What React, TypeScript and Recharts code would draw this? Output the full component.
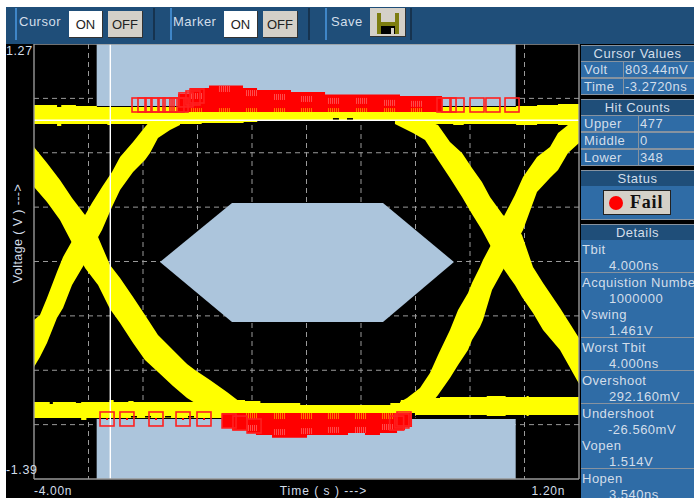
import { Area, CartesianGrid, ComposedChart, ReferenceLine, Scatter, XAxis, YAxis } from "recharts";

// all bands are [time ns, upper volt, lower volt]
const upperRail = [
  [-4, 0.897, 0.781], [-3.78, 0.885, 0.769], [-3.74, 0.897, 0.781], [-3.6, 0.891, 0.781], [-3.4, 0.885, 0.781],
  [-3.3, 0.885, 0.775], [-3.27, 0.885, 0.781], [-2.9, 0.885, 0.781], [-2.4, 0.885, 0.787], [-2.0, 0.885, 0.793],
  [-1.87, 0.885, 0.799], [-0.54, 0.885, 0.781], [-0.4, 0.885, 0.775], [-0.3, 0.885, 0.781], [0, 0.885, 0.775],
  [0.1, 0.885, 0.781], [0.6, 0.891, 0.775], [0.8, 0.897, 0.781], [1.0, 0.903, 0.775], [1.2, 0.903, 0.775],
];
const lowerRail = [
  [-4, -0.919, -1.017], [-3.85, -0.931, -1.017], [-3.82, -0.919, -1.017], [-3.6, -0.925, -1.017], [-3.55, -0.919, -1.029],
  [-3.5, -0.919, -1.017], [-3.28, -0.907, -1.017], [-3.24, -0.919, -1.017], [-3.1, -0.913, -1.017], [-3.05, -0.919, -1.017],
  [-2.225, -0.907, -1.017], [-1.987, -0.913, -0.992], [-1.84, -0.925, -0.986], [-1.46, -0.937, -0.986], [-0.89, -0.937, -0.986],
  [-0.6, -0.925, -0.986], [-0.5, -0.907, -0.986], [-0.365, -0.895, -0.999], [-0.126, -0.889, -0.999], [0.3, -0.889, -0.999],
  [0.32, -0.883, -1.005], [0.5, -0.889, -0.999], [0.7, -0.883, -1.005], [0.72, -0.889, -0.999], [1.2, -0.889, -0.999],
];
const fallLeft = [
  [-4, 0.64, 0.396], [-3.876, 0.542, 0.304], [-3.752, 0.438, 0.194], [-3.637, 0.328, 0.053], [-3.513, 0.224, -0.1],
  [-3.389, 0.09, -0.204], [-3.275, -0.081, -0.35], [-3.179, -0.161, -0.436], [-3.055, -0.277, -0.558], [-2.941, -0.387, -0.662],
  [-2.817, -0.509, -0.736], [-2.674, -0.601, -0.821], [-2.54, -0.687, -0.895], [-2.464, -0.723, -0.925], [-2.321, -0.785, -0.937],
  [-2.159, -0.858, -0.956], [-2.034, -0.919, -0.956],
];
const riseLeft = [
  [-4, -0.418, -0.705], [-3.943, -0.387, -0.644], [-3.876, -0.283, -0.558], [-3.781, -0.124, -0.405], [-3.723, -0.032, -0.344],
  [-3.637, 0.065, -0.204], [-3.513, 0.224, -0.069], [-3.447, 0.298, 0.023], [-3.351, 0.396, 0.133], [-3.256, 0.487, 0.273],
  [-3.179, 0.579, 0.377], [-3.055, 0.671, 0.487], [-2.941, 0.762, 0.561], [-2.893, 0.799, 0.603], [-2.817, 0.805, 0.695],
  [-2.702, 0.805, 0.744], [-2.607, 0.805, 0.775],
];
const riseRight = [
  [-0.508, -0.919, -0.968], [-0.441, -0.895, -0.968], [-0.317, -0.834, -0.968], [-0.222, -0.742, -0.937], [-0.145, -0.632, -0.876],
  [-0.031, -0.479, -0.772], [0.046, -0.357, -0.693], [0.141, -0.253, -0.601], [0.179, -0.191, -0.54], [0.255, -0.094, -0.461],
  [0.284, -0.051, -0.418], [0.37, 0.053, -0.234], [0.475, 0.206, -0.112], [0.589, 0.347, 0.041], [0.666, 0.457, 0.133],
  [0.799, 0.579, 0.365], [0.923, 0.64, 0.451], [1.0, 0.726, 0.5], [1.095, 0.775, 0.603], [1.2, 0.793, 0.665],
];
const fallRight = [
  [-0.556, 0.805, 0.781], [-0.384, 0.805, 0.726], [-0.269, 0.805, 0.683], [-0.145, 0.775, 0.561], [-0.031, 0.671, 0.451],
  [0.084, 0.603, 0.334], [0.179, 0.512, 0.23], [0.274, 0.426, 0.133], [0.351, 0.334, 0.041], [0.475, 0.224, -0.1],
  [0.589, 0.163, -0.204], [0.656, 0.102, -0.277], [0.761, -0.094, -0.375], [0.857, -0.191, -0.479], [1.019, -0.344, -0.601],
  [1.2, -0.528, -0.808],
];
const redUpper = [
  [-2.626, 0.964, 0.854], [-2.512, 1.001, 0.854], [-2.33, 1.016, 0.854], [-2.006, 1.001, 0.854], [-1.872, 0.989, 0.854],
  [-1.548, 0.976, 0.854], [-1.223, 0.961, 0.854], [-0.508, 0.952, 0.854], [-0.107, 0.952, 0.854],
];
const redLower = [
  [-2.206, -0.986, -1.078], [-2.111, -0.986, -1.09], [-1.968, -0.986, -1.109], [-1.882, -0.986, -1.121], [-1.729, -0.986, -1.137],
  [-1.395, -0.986, -1.121], [-1.004, -0.986, -1.109], [-0.842, -0.986, -1.121], [-0.699, -0.986, -1.109], [-0.536, -0.986, -1.09],
  [-0.46, -0.986, -1.072], [-0.393, -0.986, -1.072],
];
const maskCenter = [
  [-2.798, -0.063, -0.063], [-2.111, 0.298, -0.43], [-0.67, 0.298, -0.43], [0.007, -0.063, -0.063],
];
const maskTop = [[-3.402, 1.27, 0.891], [0.596, 1.27, 0.891]];
const maskBottom = [[-3.402, -1.023, -1.39], [0.596, -1.023, -1.39]];

// failed hits, [time ns, volt]
const hitsTop = [
  [-2.998, 0.897], [-2.941, 0.897], [-2.874, 0.897], [-2.817, 0.897], [-2.75, 0.897], [-2.702, 0.897], [-2.636, 0.897], [-2.597, 0.897],
  [-2.55, 0.928], [-2.483, 0.94], [-2.445, 0.952], [-0.088, 0.897], [-0.04, 0.897], [0.036, 0.897], [0.227, 0.897], [0.379, 0.897], [0.561, 0.897],
];
const hitsBottom = [
  [-3.303, -1.023], [-3.113, -1.023], [-2.836, -1.023], [-2.578, -1.023], [-2.378, -1.023], [-2.139, -1.035], [-2.035, -1.048],
  [-1.9, -1.066], [-0.47, -1.023], [-0.49, -1.035], [-0.54, -1.048],
];
const dotsOnHits = hitsBottom.slice(0, 5);
const solidUpper = [[-2.445, 0.866], [-2.178, 0.866], [-1.92, 0.866], [-1.653, 0.866], [-1.395, 0.866], [-1.138, 0.866], [-0.87, 0.866], [-0.603, 0.866], [-0.346, 0.866]];
const solidLower = [[-1.92, -1.005], [-1.653, -1.005], [-1.395, -1.005], [-1.138, -1.005], [-0.88, -1.005], [-0.622, -1.005]];
const paleHits = [
  [-2.445, 0.952], [-2.178, 0.995], [-1.92, 0.97], [-1.653, 0.946], [-1.395, 0.934], [-1.138, 0.922], [-0.87, 0.922], [-0.603, 0.91], [-0.346, 0.904],
  [-1.92, -1.078], [-1.653, -1.103], [-1.395, -1.097], [-1.138, -1.09], [-0.88, -1.09], [-0.622, -1.072],
];
const specks = [
  [-1.119, 0.811], [-0.985, 0.811], [-3.046, -1.011], [-2.912, -1.011], [-2.721, -1.011], [-2.502, -1.011],
  [-0.346, -1.011], [-0.212, -1.011], [-0.155, -1.011],
];

const gridTimes = [-3.48, -2.96, -2.44, -1.92, -1.4, -0.88, -0.36, 0.16, 0.68];
const gridVolts = [0.9375, 0.605, 0.2725, -0.06, -0.3925, -0.725, -1.0575];
const timeTicks = [-4, 1.2];
const voltTicks = [-1.39, 1.27];
const cursorTime = -3.272;
const cursorVolt = 0.8034;

const cursorRows = [["Volt", "803.44mV"], ["Time", "-3.2720ns"]];
const hitRows = [["Upper", "477"], ["Middle", "0"], ["Lower", "348"]];
const details = [
  ["Tbit", "4.000ns"], ["Acquistion Number", "1000000"], ["Vswing", "1.461V"], ["Worst Tbit", "4.000ns"],
  ["Overshoot", "292.160mV"], ["Undershoot", "-26.560mV"], ["Vopen", "1.514V"], ["Hopen", "3.540ns"],
];

const band = (rows: number[][]) => rows.map(([t, hi, lo]) => ({ t, v: [lo, hi] }));
const pts = (rows: number[][]) => rows.map(([t, v]) => ({ t, v }));

const YELLOW = "#ffff00";
const RED = "#ff0000";
const MASK = "#acc5dc";
const FONT = "'Liberation Sans', Arial, sans-serif";
const TEXT = "#d3deea";

const Square = (p: any) => (
  <rect x={p.cx - 7} y={p.cy - 7} width={14} height={14} fill="none" stroke="#ff2020" strokeWidth={1.6} />
);
const Dot = (p: any) => <rect x={p.cx - 1} y={p.cy - 1} width={2} height={2} fill={RED} />;
const Speck = (p: any) => <rect x={p.cx - 3} y={p.cy - 1} width={6} height={1.5} fill="#000" />;

// little dotted patch the hit squares leave behind
const hatch = (color: string, w: number, h: number, opacity: number) => (p: any) => {
  const cols = [];
  for (let i = 0; i < w; i += 2) cols.push(i);
  return (
    <g opacity={opacity}>
      {cols.map((i) => (
        <rect key={i} x={p.cx - w / 2 + i} y={p.cy - h / 2} width={1} height={h} fill={color} />
      ))}
    </g>
  );
};

const XTick = ({ x, y, payload }: any) => (
  <text x={x} y={y + 8} fontFamily={FONT} fontSize={12} fill={TEXT} letterSpacing={0.7}
    textAnchor={payload.value < 0 ? "start" : "end"} dx={payload.value < 0 ? 0 : -14}>
    {payload.value.toFixed(2)}n
  </text>
);
const YTick = ({ y, payload }: any) => (
  <text x={6} y={payload.value > 0 ? y + 11 : y - 5} fontFamily={FONT} fontSize={12.5} fill={TEXT} letterSpacing={0.6}>
    {payload.value.toFixed(2)}
  </text>
);

const box = (x: number, y: number, w: number, h: number, extra: any = {}) => ({
  position: "absolute" as const, left: x, top: y, width: w, height: h, ...extra,
});
const label = { fontFamily: FONT, fontSize: 13, color: TEXT, letterSpacing: 0.5, whiteSpace: "nowrap" as const, lineHeight: "16px" };

function ToolButton({ x, w, text, on }: { x: number; w: number; text: string; on?: boolean }) {
  return (
    <div style={box(x, 11, w, 27, {
      background: on ? "#fff" : "#d4d0c8", borderRight: "1px solid #333", borderBottom: "1px solid #333",
      boxSizing: "border-box", textAlign: "center", fontFamily: FONT, fontSize: 13, lineHeight: "28px", color: "#222",
    })}>{text}</div>
  );
}

function Toolbar() {
  const blue = [15, 170, 325];
  const dark = [153, 308, 410];
  return (
    <div style={box(6, 7, 688, 37, { background: "#1f4e79" })}>
      {blue.map((x) => <div key={x} style={box(x - 6, 1, 1.5, 32, { background: "#3f86c8" })} />)}
      {dark.map((x) => <div key={x} style={box(x - 6, 1, 1.5, 32, { background: "#16334f" })} />)}
      <div style={{ ...box(13, 7, 50, 16), ...label }}>Cursor</div>
      <div style={{ ...box(167, 7, 50, 16), ...label }}>Marker</div>
      <div style={{ ...box(325, 7, 40, 16), ...label }}>Save</div>
      <div style={{ position: "absolute", left: 0, top: -7 }}>
        <ToolButton x={63} w={34} text="ON" on />
        <ToolButton x={102} w={35} text="OFF" />
        <ToolButton x={218} w={34} text="ON" on />
        <ToolButton x={257} w={35} text="OFF" />
      </div>
      <div style={box(364, 1, 35, 28, { background: "#d4d0c8", borderRight: "1px solid #333", borderBottom: "1px solid #333" })}>
        <svg width={35} height={28}>
          <rect x={7} y={5} width={22} height={21} fill="#7d7d10" />
          <rect x={11} y={5} width={14} height={9} fill="#d4d0c8" />
          <rect x={11} y={18} width={14} height={8} fill="#000" />
          <rect x={21} y={20} width={3} height={6} fill="#d4d0c8" />
        </svg>
      </div>
    </div>
  );
}

const PANEL = "#2f6ca6";
const HEAD = "#1f4e79";
const LINE = "#8793a0";

function Header({ y, text }: { y: number; text: string }) {
  return (
    <div style={{ ...box(581, y, 113, 15, { background: HEAD, textAlign: "center" }), ...label, lineHeight: "15px" }}>{text}</div>
  );
}

function Rows({ y, rows, split, h }: { y: number; rows: string[][]; split: number; h: number }) {
  return (
    <>
      {rows.map(([name, val], i) => (
        <div key={name}>
          <div style={box(581, y + i * h, 113, h - 1, { background: PANEL, borderTop: `1px solid ${LINE}`, boxSizing: "border-box" })} />
          <div style={{ ...box(584, y + i * h, 40, h), ...label, lineHeight: `${h}px` }}>{name}</div>
          <div style={{ ...box(split + 2, y + i * h, 70, h), ...label, lineHeight: `${h}px` }}>{val}</div>
          <div style={box(split, y + i * h, 1, h - 1, { background: LINE })} />
        </div>
      ))}
    </>
  );
}

function SidePanel() {
  return (
    <>
      <div style={box(581, 45, 113, 50, { background: LINE })} />
      <Header y={46} text="Cursor Values" />
      <Rows y={61} rows={cursorRows} split={623} h={17} />
      <div style={box(581, 99, 113, 67, { background: LINE })} />
      <Header y={100} text="Hit Counts" />
      <Rows y={115} rows={hitRows} split={638} h={17} />
      <div style={box(581, 170, 113, 50, { background: LINE })} />
      <Header y={171} text="Status" />
      <div style={box(581, 186, 113, 33, { background: PANEL })} />
      <div style={box(603, 190, 68, 25, {
        background: "#d4d0c8", border: "1px solid #222", boxSizing: "border-box", fontFamily: "'Liberation Serif', serif",
        fontSize: 18, fontWeight: "bold", lineHeight: "23px", paddingLeft: 26, color: "#111", letterSpacing: 0.8,
      })}>Fail</div>
      <div style={box(609, 196, 14, 14, { background: RED, borderRadius: 7 })} />
      <div style={box(581, 224, 113, 274, { background: LINE, overflow: "hidden" })} />
      <Header y={225} text="Details" />
      <div style={box(581, 240, 113, 258, { overflow: "hidden" })}>
        {details.map(([name, val], i) => (
          <div key={name} style={box(0, Math.round(i * 32.7), 113, 32, { background: PANEL, overflow: "hidden" })}>
            <div style={{ ...box(1, 2, 112, 16), ...label }}>{name}</div>
            <div style={{ ...box(name === "Undershoot" ? 27 : 28, 18, 85, 16), ...label }}>{val}</div>
          </div>
        ))}
      </div>
    </>
  );
}

const yellowBands = [upperRail, lowerRail];
const diagonals = [fallLeft, riseLeft, riseRight, fallRight];

export default function App() {
  return (
    <div style={box(0, 0, 694, 498, { background: "#fff", overflow: "hidden" })}>
      <div style={box(6, 44, 688, 454, { background: "#000" })} />
      <div style={box(0, 0, 694, 498)}>
        <ComposedChart width={694} height={498} margin={{ top: 44, right: 115, bottom: 0, left: 0 }}>
          <XAxis dataKey="t" type="number" domain={[-4, 1.2]} ticks={timeTicks} interval={0} height={19}
            axisLine={false} tickLine={false} tick={<XTick />}
            label={{ value: "Time ( s )    --->", position: "insideBottom", offset: 0, dx: 17, dy: -3, fill: TEXT, fontSize: 12, fontFamily: FONT, style: { whiteSpace: "pre", letterSpacing: 1 } }} />
          <YAxis dataKey="v" type="number" domain={[-1.39, 1.27]} ticks={voltTicks} interval={0} width={34}
            axisLine={false} tickLine={false} tick={<YTick />}
            label={{ value: "Voltage ( V )    --->", angle: -90, position: "insideLeft", dx: 13, dy: -28, fill: TEXT, fontSize: 12.5, fontFamily: FONT, style: { whiteSpace: "pre", textAnchor: "middle", letterSpacing: 0.4 } }} />
          <CartesianGrid stroke="#9a9a9a" strokeDasharray="5 4" horizontalValues={gridVolts} verticalValues={gridTimes} />

          {[maskTop, maskBottom].map((m, i) => (
            <Area key={i} data={band(m)} dataKey="v" type="linear" fill={MASK} fillOpacity={1} stroke="none" dot={false} activeDot={false} isAnimationActive={false} />
          ))}
          <Area data={band(maskCenter)} dataKey="v" type="linear" fill={MASK} fillOpacity={1} stroke="none" dot={false} activeDot={false} isAnimationActive={false} />

          {diagonals.map((d, i) => (
            <Area key={i} data={band(d)} dataKey="v" type="linear" fill={YELLOW} fillOpacity={1} stroke="none" dot={false} activeDot={false} isAnimationActive={false} />
          ))}
          {yellowBands.map((d, i) => (
            <Area key={i} data={band(d)} dataKey="v" type="stepAfter" fill={YELLOW} fillOpacity={1} stroke="none" dot={false} activeDot={false} isAnimationActive={false} />
          ))}

          <Area data={band(redUpper)} dataKey="v" type="stepAfter" fill={RED} fillOpacity={1} stroke="none" dot={false} activeDot={false} isAnimationActive={false} />
          <Area data={band(redLower)} dataKey="v" type="stepAfter" fill={RED} fillOpacity={1} stroke="none" dot={false} activeDot={false} isAnimationActive={false} />

          <Scatter data={pts(specks)} dataKey="v" shape={Speck} isAnimationActive={false} />
          <Scatter data={pts(solidUpper)} dataKey="v" shape={hatch("#ffb000", 12, 4, 0.7)} isAnimationActive={false} />
          <Scatter data={pts(solidLower)} dataKey="v" shape={hatch("#ffb000", 12, 6, 0.7)} isAnimationActive={false} />
          <Scatter data={pts(paleHits)} dataKey="v" shape={hatch("#f99", 12, 6, 0.5)} isAnimationActive={false} />
          <Scatter data={pts(hitsTop)} dataKey="v" shape={Square} isAnimationActive={false} />
          <Scatter data={pts(hitsBottom)} dataKey="v" shape={Square} isAnimationActive={false} />
          <Scatter data={pts(dotsOnHits)} dataKey="v" shape={Dot} isAnimationActive={false} />

          <ReferenceLine x={cursorTime} stroke="#fff" strokeWidth={1.4} />
          <ReferenceLine y={cursorVolt} stroke="#fff" strokeWidth={1.4} />
          <ReferenceLine x={-4} stroke="#999" strokeWidth={1.4} />
          <ReferenceLine x={1.2} stroke="#999" strokeWidth={1.4} />
          <ReferenceLine y={1.27} stroke="#999" strokeWidth={1.4} />
          <ReferenceLine y={-1.39} stroke="#999" strokeWidth={1.4} />
        </ComposedChart>
      </div>
      <Toolbar />
      <SidePanel />
    </div>
  );
}
